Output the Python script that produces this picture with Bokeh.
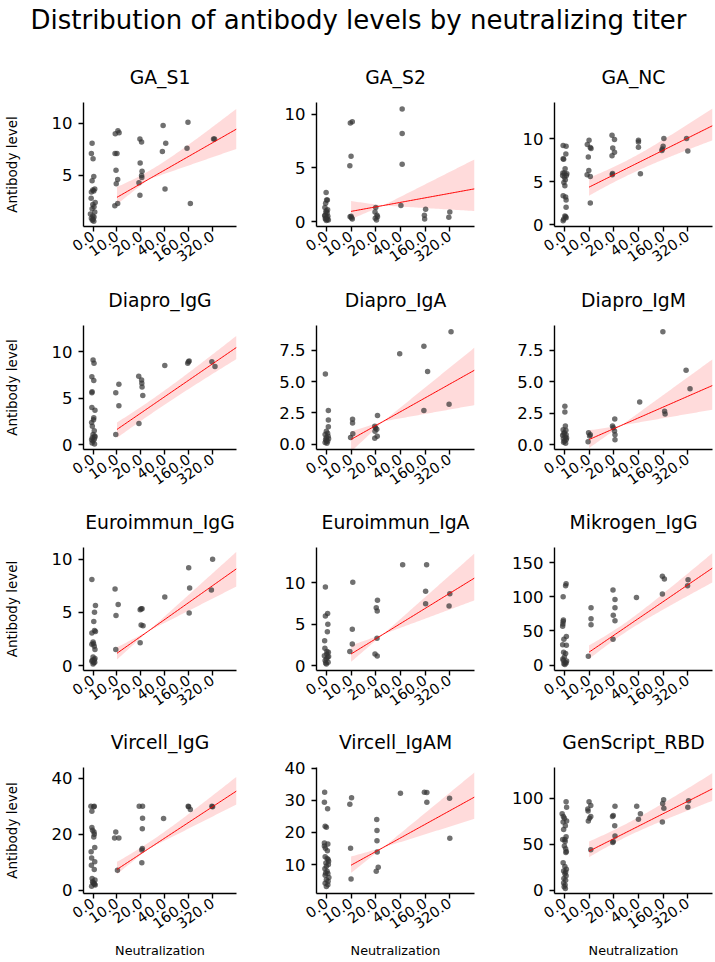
import math
import numpy as np
from bokeh.plotting import figure
from bokeh.layouts import column, row
from bokeh.models import FixedTicker, PrintfTickFormatter, Range1d
from bokeh.embed import file_html
from bokeh.resources import INLINE
from bokeh.core.properties import value

FONT = "DejaVu Sans"
MAIN_TITLE = "Distribution of antibody levels by neutralizing titer"
X_LABEL = "Neutralization"
Y_LABEL = "Antibody level"
tick_positions = [0, 1, 2, 3, 4, 5]
tick_labels = ["0.0", "10.0", "20.0", "40.0", "160.0", "320.0"]
panel_names = ["GA_S1", "GA_S2", "GA_NC", "Diapro_IgG", "Diapro_IgA", "Diapro_IgM",
               "Euroimmun_IgG", "Euroimmun_IgA", "Mikrogen_IgG", "Vircell_IgG",
               "Vircell_IgAM", "GenScript_RBD"]

# ---- points (x = titer category position incl. jitter, y = antibody level) ----
ga_s1_x = [-0.04, -0.07, 0.0, 0.03, -0.04, 0.07, -0.01, 0.03, -0.07, -0.08, 0.09, -0.01, 0.04, -0.04, 0.07, -0.11, -0.01, 0.04, -0.07, 0.0, -0.03, 0.03,
           0.93, 1.04, 1.09, 0.92, 1.0, 0.96, 1.03, 0.97, 0.91, 1.03,
           1.96, 2.03, 1.97, 2.05, 2.03, 2.04, 1.92, 1.96,
           2.93, 3.04, 2.9, 3.01, 3.97, 3.93, 4.07, 5.04, 5.08]
ga_s1_y = [8.1, 7.1, 6.6, 4.9, 4.5, 3.7, 3.6, 3.5, 3.4, 2.8, 2.4, 2.2, 2.0, 1.8, 1.5, 1.3, 1.1, 1.0, 0.9, 0.8, 0.7, 0.6,
           9.0, 9.3, 9.1, 7.1, 7.1, 5.5, 4.6, 4.2, 2.1, 2.3,
           8.5, 8.2, 6.2, 5.4, 5.0, 4.8, 4.3, 3.1,
           9.8, 8.1, 7.3, 3.7, 10.1, 7.6, 2.3, 8.5, 8.5]

ga_s2_x = [-0.01, 0.04, 0.01, -0.03, -0.06, 0.05, -0.02, 0.03, -0.05, 0.06, -0.03, 0.08, 0.0, 0.04, -0.07, 0.0, 0.02, -0.04,
           0.97, 1.05, 1.0, 0.95, 0.96, 1.02, 1.05, 1.0,
           2.0, 1.97, 2.05, 1.98, 2.03, 2.07,
           3.07, 3.07, 3.07, 3.02, 4.02, 3.97, 3.98, 5.0, 4.96]
ga_s2_y = [2.7, 2.0, 2.0, 1.7, 1.3, 1.1, 0.9, 0.8, 0.6, 0.5, 0.3, 0.15, 0.1, 0.2, 0.55, 1.0, 0.4, 0.25,
           9.2, 9.3, 6.1, 5.2, 0.45, 0.35, 0.25, 0.5,
           1.3, 0.9, 0.6, 0.3, 0.15, 0.45,
           10.5, 8.2, 5.35, 1.5, 1.15, 0.6, 0.25, 0.9, 0.4]

ga_nc_x = [-0.05, 0.07, 0.06, -0.05, -0.03, 0.03, -0.06, 0.1, 0.08, 0.0, 0.04, -0.02, 0.02, -0.05, 0.05, 0.07, 0.07, 0.02, 0.07, -0.03, -0.05, 0.05, 0.0, -0.07,
           1.0, 0.93, 1.05, 1.08, 0.97, 0.99, 0.92, 1.05, 1.05,
           1.93, 2.03, 1.96, 2.03, 1.93, 1.95, 1.94,
           3.0, 3.0, 3.0, 3.08, 4.03, 4.0, 3.97, 3.95, 4.95, 5.0]
ga_nc_y = [9.2, 9.1, 8.2, 7.65, 7.6, 6.5, 6.0, 5.9, 5.7, 5.5, 5.2, 4.9, 4.5, 3.35, 3.2, 2.85, 2.0, 1.0, 0.8, 0.6, 0.45, 0.9, 6.0, 5.7,
           9.8, 9.3, 8.95, 8.85, 7.85, 6.3, 5.8, 5.6, 2.5,
           10.4, 9.9, 8.9, 8.4, 8.0, 5.95, 5.8,
           9.8, 9.6, 9.0, 5.9, 10.0, 9.1, 8.8, 8.6, 10.0, 8.55]

diapro_igg_x = [0.0, 0.04, -0.05, 0.03, -0.04, -0.05, -0.05, 0.08, 0.03, 0.02, -0.06, -0.03, 0.05, 0.0, 0.07, -0.03, 0.05, 0.0, -0.04, 0.06, -0.06, 0.08,
                0.95, 1.08, 1.08, 0.95,
                1.91, 2.03, 2.04, 2.05, 2.08, 1.92,
                3.0, 4.02, 3.99, 3.96, 4.97, 5.1]
diapro_igg_y = [9.1, 8.75, 7.3, 6.9, 5.7, 5.6, 4.0, 3.7, 2.9, 2.7, 2.4, 2.0, 1.5, 1.1, 0.95, 0.75, 0.6, 0.4, 0.2, 0.1, 0.55, 0.85,
                5.6, 6.5, 4.2, 1.1,
                7.35, 6.95, 6.6, 6.2, 5.3, 2.3,
                8.5, 9.0, 8.9, 8.75, 8.9, 8.4]

diapro_iga_x = [-0.04, 0.08, 0.08, 0.08, 0.0, 0.05, -0.05, 0.07, 0.0, -0.03, 0.05, -0.05, 0.02, 0.09, 0.0,
                1.06, 1.06, 1.07, 0.98,
                2.07, 1.96, 1.99, 2.04, 1.97, 2.06, 1.96,
                2.97, 3.95, 4.1, 3.95, 5.05, 4.97]
diapro_iga_y = [5.6, 2.7, 1.95, 1.4, 1.05, 0.9, 0.8, 0.65, 0.55, 0.4, 0.25, 0.15, 0.1, 0.45, 0.3,
                2.0, 1.7, 0.85, 0.55,
                2.3, 1.45, 1.3, 1.2, 1.05, 0.65, 0.5,
                7.2, 7.8, 5.8, 2.7, 8.95, 3.2]

diapro_igm_x = [0.02, 0.02, 0.04, -0.05, 0.06, 0.0, 0.07, -0.07, 0.04, -0.04, 0.07, 0.0, -0.03, 0.05, -0.02, 0.09,
                0.98, 1.05, 1.02, 0.96,
                2.04, 1.95, 1.98, 2.03, 2.05, 2.05,
                3.05, 3.99, 4.06, 4.08, 4.93, 5.09]
diapro_igm_y = [3.05, 2.6, 1.5, 1.2, 1.15, 0.95, 0.8, 0.75, 0.6, 0.5, 0.4, 0.3, 0.2, 0.13, 0.87, 0.55,
                0.95, 0.8, 0.7, 0.25,
                2.05, 1.5, 1.35, 1.1, 0.8, 0.4,
                3.4, 8.95, 2.65, 2.45, 5.9, 4.45]

euro_igg_x = [-0.05, -0.05, 0.1, 0.03, 0.06, 0.1, 0.06, 0.0, -0.05, 0.05, 0.08, 0.0, 0.05, -0.05, 0.03, 0.0, 0.08, 0.07, -0.03, 0.02,
              0.92, 1.05, 0.96, 0.95,
              1.97, 2.01, 2.05, 2.01, 2.09, 1.97,
              3.0, 4.0, 4.04, 4.02, 5.0, 4.95]
euro_igg_y = [8.1, 3.05, 3.2, 4.15, 5.0, 5.65, 3.3, 2.2, 2.0, 1.8, 1.5, 0.8, 0.55, 0.4, 0.25, 0.15, 0.65, 0.3, 0.5, 2.05,
              7.2, 5.75, 4.7, 1.5,
              5.25, 5.35, 5.35, 3.8, 3.75, 2.15,
              6.45, 9.2, 7.3, 4.95, 10.0, 7.1]

euro_iga_x = [-0.04, -0.04, 0.05, 0.06, 0.04, -0.07, -0.06, 0.08, 0.02, -0.08, 0.05, 0.0, -0.05, 0.07, 0.0, 0.02, 0.09, -0.03,
              1.07, 1.05, 1.05, 0.95,
              2.07, 2.02, 2.06, 2.05, 1.97, 2.06,
              3.09, 4.06, 4.02, 4.02, 5.0, 4.97]
euro_iga_y = [9.5, 6.0, 6.3, 5.0, 4.1, 3.0, 2.1, 1.6, 1.4, 1.2, 1.0, 0.8, 0.6, 0.4, 0.2, 1.7, 1.1, 0.3,
              10.1, 4.4, 2.6, 1.7,
              7.9, 7.0, 6.6, 3.3, 1.4, 1.15,
              12.2, 12.2, 9.0, 7.5, 8.7, 7.2]

mikrogen_igg_x = [0.07, 0.05, -0.05, -0.04, -0.05, -0.06, -0.07, 0.08, -0.02, -0.07, 0.08, -0.03, 0.05, 0.0, -0.04, 0.03, 0.07, -0.02, 0.02, 0.09, -0.06,
                  1.08, 1.08, 1.08, 0.97,
                  1.97, 2.05, 2.05, 1.98, 2.05, 1.97,
                  2.92, 3.97, 4.05, 3.97, 5.01, 4.99]
mikrogen_igg_y = [119, 116, 100, 66, 64, 60, 57, 42, 38, 30, 29, 19, 17, 12, 7, 4, 3, 2, 1, 6, 9,
                  84, 68, 59, 13,
                  110, 96, 84, 73, 65, 38,
                  99, 130, 126, 104, 125, 116]

vircell_igg_x = [-0.09, 0.03, -0.05, -0.05, -0.02, 0.04, 0.05, 0.03, 0.07, -0.08, -0.06, 0.07, -0.07, 0.05, -0.04, 0.08, -0.02, 0.04, 0.09, -0.06, 0.0, 0.06, 0.05,
                 0.95, 0.9, 1.08, 1.02,
                 1.93, 2.07, 2.07, 2.06, 2.06, 2.04, 2.04,
                 2.95, 3.98, 4.0, 4.07, 4.97, 5.0]
vircell_igg_y = [30, 29.8, 28.2, 22.4, 21.4, 20.8, 20, 19, 15.2, 13.7, 11.5, 10.1, 8.9, 7.4, 4.2, 3.6, 3.0, 2.4, 1.8, 1.4, 2.6, 2.1, 30,
                 20.8, 18.6, 18.6, 7.1,
                 30, 30, 25.7, 21.9, 14.9, 14.3, 9.8,
                 25.6, 30, 29.8, 28.8, 30, 29.8]

vircell_igam_x = [-0.07, -0.08, 0.05, -0.05, 0.0, 0.06, -0.08, -0.04, 0.04, -0.05, 0.07, -0.02, 0.08, 0.0, -0.06, 0.03, 0.06, -0.05, 0.1, 0.0, -0.05, 0.06, 0.0, -0.08, 0.03, 0.09, -0.03, 0.07,
                  1.02, 0.95, 0.98, 1.0,
                  2.04, 2.05, 2.05, 2.06, 2.1, 2.02,
                  3.0, 3.97, 4.07, 4.07, 4.99, 5.0]
vircell_igam_y = [32.5, 29.4, 27.4, 21.9, 21.6, 16.4, 15.8, 15.1, 14.3, 12.4, 11.6, 10.5, 10, 9.5, 8.7, 7.9, 7.2, 6.7, 6.0, 5.3, 4.2, 3.7, 3.2, 16.7, 11.9, 11.0, 7.4, 4.8,
                  30.8, 28.8, 15.1, 5.5,
                  24, 20.6, 17.4, 13.9, 9.2, 7.9,
                  32.2, 32.5, 32.4, 29.4, 30.6, 18.2]

genscript_x = [0.07, 0.09, -0.09, -0.04, 0.0, 0.09, -0.05, 0.04, -0.03, 0.07, -0.07, 0.03, 0.0, 0.05, 0.06, -0.05, 0.02, 0.08, -0.03, 0.05, 0.02, 0.07, -0.02, 0.05, -0.03, 0.03, -0.01, 0.04, 0.02, 0.08,
               1.0, 1.07, 0.95, 0.96, 1.07, 1.02, 0.97, 1.07,
               2.05, 1.98, 1.95, 2.04, 2.05, 1.98, 1.96,
               2.93, 3.08, 3.0, 4.02, 3.98, 4.03, 3.97, 5.03, 5.0]
genscript_y = [96, 90, 83, 80, 78, 75, 74, 70, 66, 58, 55, 53, 48, 45, 41, 30, 26, 23, 21, 20, 18, 16, 13, 11, 8, 6, 4, 2, 55, 42,
               96, 92, 88, 86, 80, 78, 75, 44,
               91, 81, 80, 70, 59, 53, 52,
               91, 83, 77, 98, 94, 89, 74, 97, 90]

# ---- regression fit as read: y at x=1 and x=6; CI lower/upper at x=1 and x=6 ----
fit_y1 = [2.9, 0.95, 4.35, 1.65, 0.4, 0.42, 1.15, 1.4, 19, 7.4, 9.8, 42.5]
fit_y6 = [9.45, 3.05, 11.5, 10.45, 5.9, 4.7, 9.1, 10.6, 142, 35.4, 31.0, 110]
ci_lo1 = [2.4, 0.7, 3.35, 0.75, 0.26, 0.29, 0.8, 0.8, 9, 6.0, 8.4, 36]
ci_hi1 = [3.9, 1.6, 5.45, 2.4, 0.66, 0.63, 1.55, 2.2, 29, 10.1, 11.9, 53]
ci_lo6 = [7.6, 1.1, 9.8, 9.2, 3.3, 2.9, 7.5, 8.0, 121, 30.7, 24.5, 97]
ci_hi6 = [11.4, 5.7, 13.5, 11.7, 7.6, 6.65, 10.65, 13.5, 164, 40.5, 38.5, 127]

# ---- axes ----
y_lo = [0.1, -0.46, -0.23, -0.5, -0.4, -0.37, -0.47, -0.6, -7.8, -1.2, 1.0, -3.3]
y_hi = [12.0, 11.1, 14.2, 12.8, 9.45, 9.45, 11.1, 14.3, 172, 43.8, 40.2, 133]
y_ticks = [[5, 10], [0, 5, 10], [0, 5, 10], [0, 5, 10], [0, 2.5, 5, 7.5], [0, 2.5, 5, 7.5],
           [0, 5, 10], [0, 5, 10], [0, 50, 100, 150], [0, 20, 40], [10, 20, 30, 40], [0, 50, 100]]
y_fmt = ["%d", "%d", "%d", "%d", "%.1f", "%.1f", "%d", "%d", "%d", "%d", "%d", "%d"]

panel_x = [ga_s1_x, ga_s2_x, ga_nc_x, diapro_igg_x, diapro_iga_x, diapro_igm_x,
           euro_igg_x, euro_iga_x, mikrogen_igg_x, vircell_igg_x, vircell_igam_x, genscript_x]
panel_y = [ga_s1_y, ga_s2_y, ga_nc_y, diapro_igg_y, diapro_iga_y, diapro_igm_y,
           euro_igg_y, euro_iga_y, mikrogen_igg_y, vircell_igg_y, vircell_igam_y, genscript_y]

# layout (px)
COL_L = [78, 72, 72]
COL_R = [8, 8, 2]
FRAME_W = 158
ROW_T = [54, 54, 54, 54]
ROW_B = [45, 44, 42, 68]
ROW_FH = [124, 124, 124, 126]
TOTAL_W = sum(COL_L) + sum(COL_R) + 3 * FRAME_W
TITLE_H = 48


def band_curve(xs, x1, x6, off1, off6, xc=2.3):
    h1, h6 = abs(off1), abs(off6)
    d1, d6 = (x1 - xc) ** 2, (x6 - xc) ** 2
    b = max((h6 ** 2 - h1 ** 2) / (d6 - d1), 0.0)
    a = max(h1 ** 2 - b * d1, 1e-9)
    return np.sqrt(a + b * (xs - xc) ** 2)


def make_panel(i):
    c, r = i % 3, i // 3
    p = figure(width=COL_L[c] + FRAME_W + COL_R[c], height=ROW_T[r] + ROW_FH[r] + ROW_B[r],
               x_range=Range1d(-0.4, 6.0), y_range=Range1d(y_lo[i], y_hi[i]),
               output_backend="svg", toolbar_location=None,
               min_border_left=COL_L[c], min_border_right=COL_R[c],
               min_border_top=ROW_T[r], min_border_bottom=ROW_B[r],
               title=panel_names[i])
    p.title.align = "center"
    p.title.text_font = FONT
    p.title.text_font_size = "18.8px"
    p.title.text_font_style = "normal"
    p.title.text_color = "#000000"
    p.title.standoff = 29
    p.outline_line_color = None
    p.xgrid.visible = False
    p.ygrid.visible = False

    # regression band + line
    xs = np.linspace(1.0, 6.0, 80)
    yc = fit_y1[i] + (fit_y6[i] - fit_y1[i]) * (xs - 1.0) / 5.0
    up = band_curve(xs, 1.0, 6.0, ci_hi1[i] - fit_y1[i], ci_hi6[i] - fit_y6[i])
    dn = band_curve(xs, 1.0, 6.0, fit_y1[i] - ci_lo1[i], fit_y6[i] - ci_lo6[i])
    p.varea(x=xs, y1=yc - dn, y2=yc + up, fill_color="#ff0000", fill_alpha=0.14)

    n = min(len(panel_x[i]), len(panel_y[i]))
    p.scatter(panel_x[i][:n], panel_y[i][:n], size=5.5, fill_color="#333333",
              fill_alpha=0.7, line_color=None)
    p.line(xs, yc, line_color="#ff0000", line_width=1)

    for ax in (p.xaxis[0], p.yaxis[0]):
        ax.axis_line_color = "black"
        ax.axis_line_width = 1.4
        ax.major_tick_line_color = "black"
        ax.major_tick_line_width = 1.4
        ax.major_tick_out = 5
        ax.major_tick_in = 0
        ax.minor_tick_line_color = None
        ax.major_label_text_font = FONT
        ax.major_label_text_color = "#000000"
        ax.axis_label_text_font = FONT
        ax.axis_label_text_font_style = "normal"
        ax.axis_label_text_color = "#000000"

    xa = p.xaxis[0]
    xa.ticker = FixedTicker(ticks=tick_positions)
    xa.major_label_overrides = {t: lab for t, lab in zip(tick_positions, tick_labels)}
    xa.major_label_orientation = math.radians(35)
    xa.major_label_text_font_size = "14.5px"
    xa.major_label_standoff = 3
    xa.axis_label_text_font_size = "12.8px"

    ya = p.yaxis[0]
    ya.ticker = FixedTicker(ticks=y_ticks[i])
    ya.formatter = PrintfTickFormatter(format=y_fmt[i])
    ya.major_label_text_font_size = "16.5px"
    ya.major_label_standoff = 6
    ya.axis_label_text_font_size = "13.5px"

    if c == 0:
        ya.axis_label = Y_LABEL
        ya.axis_label_standoff = 29
    if r == 3:
        xa.axis_label = X_LABEL
        xa.axis_label_standoff = 6
    return p


title_fig = figure(width=TOTAL_W, height=TITLE_H, x_range=Range1d(0, TOTAL_W), y_range=Range1d(0, TITLE_H),
                   output_backend="svg", toolbar_location=None,
                   min_border_left=0, min_border_right=0, min_border_top=0, min_border_bottom=0)
title_fig.axis.visible = False
title_fig.grid.visible = False
title_fig.outline_line_color = None
title_fig.text(x=[358], y=[TITLE_H - 19], text=[MAIN_TITLE], text_font=value(FONT), text_font_size="26px",
               text_align="center", text_baseline="middle", text_color="#000000")

panels = [make_panel(i) for i in range(12)]
layout = column(title_fig,
                row(panels[0], panels[1], panels[2]),
                row(panels[3], panels[4], panels[5]),
                row(panels[6], panels[7], panels[8]),
                row(panels[9], panels[10], panels[11]))

open("out.html", "w").write(file_html(layout, INLINE))
